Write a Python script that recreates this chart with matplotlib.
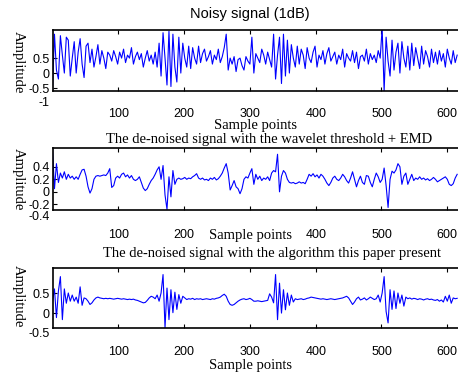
import numpy as np
import matplotlib
matplotlib.use("Agg")
import matplotlib.pyplot as plt

plt.rcParams['font.family'] = ['Liberation Sans', 'DejaVu Sans']

sample_step = 3
noisy = [
    -0.5, 1.3, 0.1, -0.2, 1.25, 0.6, 0.0, 1.2, 1.1, -0.1,
    0.5, 1.05, 0.0, 0.7, 1.15, 0.3, -0.15, 0.9, 1.0, 0.35,
    0.8, 0.2, 0.55, 0.95, 0.3, 0.75, 0.5, 0.15, 0.7, 0.6,
    0.4, 0.75, 0.55, 0.3, 0.7, 0.5, 0.8, 0.35, 0.6, 0.5,
    0.85, 0.3, 0.55, 0.7, 0.45, 0.65, 0.2, 0.5, 0.75, 0.4,
    0.6, 0.3, 0.7, 0.2, 1.0, -0.1, 1.35, 0.5, -0.4, 1.4,
    -0.45, 1.3, 0.2, -0.3, 1.2, 0.0, 1.0, 0.5, 0.2, 0.9,
    0.15, 0.85, 0.5, 0.3, 0.9, 0.35, 0.65, 0.8, 0.4, 0.55,
    0.75, 0.3, 0.6, 0.45, 0.8, 0.35, 0.55, 0.85, 1.3, 0.1,
    0.5, 0.3, 0.55, 0.05, 0.45, 0.5, 0.25, 0.1, 0.55, 0.4,
    0.3, 1.2, 0.0, 0.65, 0.5, 0.35, 0.8, 0.6, 0.3, 0.7,
    0.45, 0.2, 1.3, -0.2, 0.6, 1.2, -0.35, 1.3, -0.1, 1.1,
    0.0, 0.95, 0.5, 0.2, 0.9, 0.3, 0.8, 0.6, 0.15, 0.85,
    0.5, 0.35, 0.7, 0.9, 0.2, 0.6, 0.45, 0.75, 0.3, 0.65,
    0.85, 0.4, 0.55, 0.7, 0.3, 0.6, 0.45, 0.8, 0.2, 0.65,
    0.5, 0.4, 0.75, 0.35, 0.7, 0.15, 0.55, 0.6, 0.4, 0.8,
    0.3, 0.65, 0.45, 0.6, 0.35, 0.75, 0.5, 1.5, -0.6, 1.2,
    0.4, -0.1, 1.1, 0.1, 0.7, 1.0, 0.0, 1.05, 0.5, 0.2,
    0.9, 0.1, 1.0, 0.25, 0.85, 0.5, 0.15, 0.9, 0.3, 0.75,
    0.55, 0.2, 0.8, 0.35, 0.7, 0.3, 0.75, 0.4, 0.65, 0.2,
    0.8, 0.5, 0.3, 0.75, 0.35, 0.6,
]
wavelet_emd = [
    0.68, 0.05, 0.45, 0.15, 0.3, 0.22, 0.32, 0.2, 0.28, 0.22,
    0.25, 0.2, 0.24, 0.2, 0.28, 0.35, 0.36, 0.25, 0.08, -0.02,
    0.05, 0.2, 0.25, 0.26, 0.25, 0.26, 0.27, 0.26, 0.3, 0.37,
    0.07, 0.1, 0.22, 0.25, 0.22, 0.28, 0.3, 0.24, 0.27, 0.22,
    0.26, 0.2, 0.18, 0.2, 0.24, 0.15, 0.06, 0.02, 0.05, 0.12,
    0.18, 0.22, 0.28, 0.35, 0.4, 0.2, 0.42, -0.05, -0.28, 0.24,
    -0.08, 0.34, 0.12, 0.2, 0.22, 0.2, 0.21, 0.23, 0.2, 0.22,
    0.21, 0.24, 0.26, 0.29, 0.22, 0.2, 0.22, 0.19, 0.2, 0.18,
    0.22, 0.2, 0.23, 0.19, 0.21, 0.25, 0.3, 0.38, 0.45, 0.3,
    0.03, 0.1, 0.18, 0.08, 0.05, -0.03, 0.05, 0.2, 0.24, 0.22,
    0.3, 0.37, 0.12, 0.28, 0.2, 0.25, 0.18, 0.22, 0.2, 0.24,
    0.18, 0.3, 0.34, 0.32, 0.6, 0.0, 0.25, 0.34, 0.3, 0.2,
    0.15, 0.14, 0.15, 0.13, 0.14, 0.16, 0.14, 0.15, 0.13, 0.2,
    0.28, 0.25, 0.29, 0.24, 0.27, 0.22, 0.28, 0.25, 0.2, 0.14,
    0.1, 0.15, 0.22, 0.25, 0.2, 0.18, 0.22, 0.28, 0.24, 0.18,
    0.14, 0.22, 0.32, 0.2, 0.08, 0.18, 0.25, 0.15, 0.12, 0.26,
    0.25, 0.15, 0.08, 0.2, 0.3, 0.24, 0.15, 0.2, 0.38, 0.1,
    -0.25, 0.2, 0.33, 0.3, 0.35, 0.45, 0.4, 0.12, 0.25, 0.3,
    0.12, 0.2, 0.28, 0.18, 0.22, 0.2, 0.24, 0.2, 0.22, 0.19,
    0.21, 0.18, 0.2, 0.23, 0.2, 0.16, 0.18, 0.2, 0.22, 0.24,
    0.2, 0.12, 0.1, 0.13, 0.22, 0.28,
]
proposed = [
    0.3, 0.6, -0.1, 0.55, 0.9, -0.15, 0.6, 0.25, 0.5, 0.3,
    0.45, 0.3, 0.4, 0.25, 0.65, 0.2, 0.38, 0.36, 0.3, 0.22,
    0.26, 0.33, 0.38, 0.4, 0.38, 0.37, 0.36, 0.37, 0.36, 0.37,
    0.36, 0.35, 0.36, 0.37, 0.36, 0.35, 0.36, 0.35, 0.34, 0.35,
    0.34, 0.35, 0.33, 0.32, 0.3, 0.28, 0.26, 0.27, 0.32, 0.38,
    0.42, 0.4, 0.36, 0.45, 0.3, 0.5, 0.95, -0.35, 0.62, -0.15,
    0.58, 0.02, 0.52, 0.1, 0.46, 0.25, 0.42, 0.38, 0.34, 0.36,
    0.35, 0.37, 0.34, 0.36, 0.35, 0.36, 0.34, 0.35, 0.36, 0.35,
    0.34, 0.36, 0.35, 0.37, 0.38, 0.4, 0.44, 0.47, 0.42, 0.3,
    0.22, 0.2, 0.22, 0.26, 0.3, 0.33, 0.35, 0.36, 0.34, 0.35,
    0.37, 0.34, 0.3, 0.3, 0.31, 0.3, 0.29, 0.3, 0.31, 0.32,
    0.48, 0.4, 0.26, 0.95, -0.15, 0.74, 0.01, 0.58, 0.09, 0.5,
    0.2, 0.45, 0.28, 0.36, 0.34, 0.35, 0.36, 0.34, 0.35, 0.37,
    0.38, 0.4, 0.39, 0.38, 0.37, 0.36, 0.35, 0.36, 0.35, 0.34,
    0.35, 0.36, 0.35, 0.34, 0.35, 0.36, 0.37, 0.38, 0.4, 0.42,
    0.38, 0.3, 0.22, 0.28, 0.36, 0.4, 0.33, 0.35, 0.38, 0.33,
    0.36, 0.4, 0.37, 0.34, 0.36, 0.45, 0.28, 0.5, 0.9, 0.05,
    -0.23, 0.58, 0.1, 0.55, 0.12, 0.5, 0.25, 0.45, 0.18, 0.4,
    0.36, 0.38, 0.35, 0.37, 0.36, 0.34, 0.36, 0.35, 0.33, 0.35,
    0.36, 0.34, 0.35, 0.33, 0.32, 0.34, 0.3, 0.33, 0.28, 0.42,
    0.3, 0.45, 0.25, 0.38, 0.36, 0.37,
]

x_ticks = [100, 200, 300, 400, 500, 600]
panel_titles = ["Noisy signal (1dB)",
                "The de-noised signal with the wavelet threshold + EMD",
                "The de-noised signal with the algorithm this paper present"]
xlabel_text = "Sample points"
ylabel_text = "Amplitude"
y_ticks = [[-0.5, 0, 0.5], [-0.2, 0, 0.2, 0.4], [0, 0.5]]
y_ticklabels = [["-0.5", "0", "0.5"], ["-0.2", "0", "0.2", "0.4"], ["0", "0.5"]]
y_extra = [(-1, "-1"), (-0.4, "-0.4"), (-0.5, "-0.5")]
x_ticklabels = [["100", "200", "300", "400", "500", "600"],
                ["100", "200", "", "400", "500", "600"],
                ["100", "200", "300", "400", "500", "600"]]

W, H = 458, 378
fig = plt.figure(figsize=(W / 100, H / 100), dpi=100)

def rect(left, top, right, bottom):
    return [left / W, 1 - bottom / H, (right - left) / W, (bottom - top) / H]

xmax = 625
right_px = 52.5 + xmax * 0.658
panels = [
    dict(pos=rect(52.5, 30, right_px, 91), ylim=(-0.6, 1.44), pad=12.5,
         title=(250, 14), xl=(255, 126), yl=(18, 62), serif_title=False),
    dict(pos=rect(52.5, 148, right_px, 210), ylim=(-0.29, 0.70), pad=14,
         title=(269, 140), xl=(250, 235), yl=(18, 179), serif_title=True),
    dict(pos=rect(52.5, 268, right_px, 328), ylim=(-0.354, 1.11), pad=13,
         title=(272, 254), xl=(250, 366), yl=(18, 296), serif_title=True),
]
series = [noisy, wavelet_emd, proposed]

serif = ['Liberation Serif', 'DejaVu Serif']
for i, (p, y) in enumerate(zip(panels, series)):
    ax = fig.add_axes(p['pos'])
    xs = np.arange(len(y)) * sample_step
    ax.plot(xs, y, color='#0000ff', lw=0.8)
    ax.set_xlim(0, xmax)
    ax.set_ylim(*p['ylim'])
    ax.set_xticks(x_ticks)
    ax.set_xticklabels(x_ticklabels[i])
    ax.set_yticks(y_ticks[i])
    ax.set_yticklabels(y_ticklabels[i])
    for s in ax.spines.values():
        s.set_linewidth(1.2)
    ax.tick_params(axis='x', direction='in', top=True, length=3, width=0.8,
                   labelsize=9, pad=p['pad'])
    ax.tick_params(axis='y', direction='in', length=3, width=0.8,
                   labelsize=9, pad=2)
    yv, lab = y_extra[i]
    ax.annotate(lab, xy=(0, yv), xycoords=('axes fraction', 'data'),
                xytext=(-2, 0), textcoords='offset points',
                ha='right', va='center', fontsize=9, annotation_clip=False)
    tx, ty = p['title']
    if p['serif_title']:
        fig.text(tx / W, 1 - ty / H, panel_titles[i], ha='center', va='center',
                 fontsize=10.5, family=serif)
    else:
        fig.text(tx / W, 1 - ty / H, panel_titles[i], ha='center', va='center',
                 fontsize=10.5)
    lx, ly = p['xl']
    fig.text(lx / W, 1 - ly / H, xlabel_text, ha='center', va='center',
             fontsize=10.5, family=serif)
    yx, yy = p['yl']
    fig.text(yx / W, 1 - yy / H, ylabel_text, ha='center', va='center',
             fontsize=10.5, family=serif, rotation=270)

fig.savefig("out.png", dpi=100)
